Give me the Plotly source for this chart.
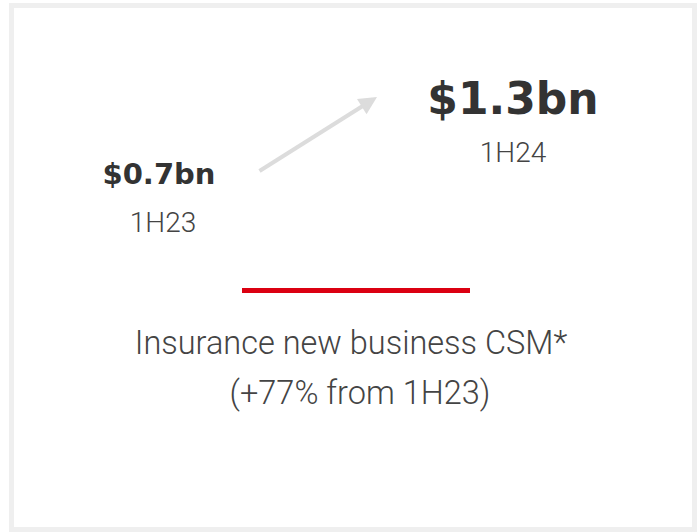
import plotly.graph_objects as go

# ---- data ----
periods = ["1H23", "1H24"]
values_bn = [0.7, 1.3]
caption_lines = ["Insurance new business CSM*", "(+77% from 1H23)"]

value_labels = [f"${v}bn" for v in values_bn]

# ---- layout constants (pixel space) ----
W, H = 698, 532
val_x = [159, 513]
val_y = [177, 102.5]
val_size = [29, 44]
per_x = [163, 513]
per_y = [225, 155]
cap_x = [351, 360]
cap_y = [346, 396]

BOLD_FONT = "DejaVu Sans"
LIGHT_FONT = "Roboto"
DARK = "#333333"
GREY = "#444444"

fig = go.Figure()

for i in range(len(periods)):
    fig.add_trace(go.Scatter(
        x=[val_x[i]], y=[val_y[i]], mode="text", text=[value_labels[i]],
        textposition="middle center",
        textfont=dict(family=BOLD_FONT, size=val_size[i], color=DARK, weight="bold"),
        hoverinfo="skip", showlegend=False))
    fig.add_trace(go.Scatter(
        x=[per_x[i]], y=[per_y[i]], mode="text", text=[periods[i]],
        textposition="middle center",
        textfont=dict(family=LIGHT_FONT, size=28, color=GREY, weight=300),
        hoverinfo="skip", showlegend=False))

fig.add_trace(go.Scatter(
    x=cap_x, y=cap_y, mode="text", text=caption_lines,
    textposition="middle center",
    textfont=dict(family=LIGHT_FONT, size=32.5, color=GREY, weight=300),
    hoverinfo="skip", showlegend=False))

# arrow from 1H23 to 1H24
fig.add_annotation(
    x=377, y=97, ax=258, ay=172, xref="x", yref="y", axref="x", ayref="y",
    text="", showarrow=True, arrowhead=2, arrowsize=0.9, arrowwidth=4,
    arrowcolor="#dcdcdc", standoff=0, startstandoff=0)

# frame
fig.add_shape(type="rect", x0=11.5, y0=5.5, x1=694.5, y1=529.5,
              line=dict(color="#efefef", width=5), fillcolor="rgba(0,0,0,0)",
              layer="below")
# red divider
fig.add_shape(type="rect", x0=242, y0=288, x1=470, y1=293,
              line=dict(width=0), fillcolor="#db0011")

fig.update_xaxes(range=[0, W], visible=False, fixedrange=True)
fig.update_yaxes(range=[H, 0], visible=False, fixedrange=True)
fig.update_layout(
    width=W, height=H, margin=dict(l=0, r=0, t=0, b=0),
    paper_bgcolor="white", plot_bgcolor="white", showlegend=False)

fig.write_html(
    "out.html",
    config={"displayModeBar": False},
    post_script="document.body.style.margin='0';document.body.style.overflow='hidden';")
